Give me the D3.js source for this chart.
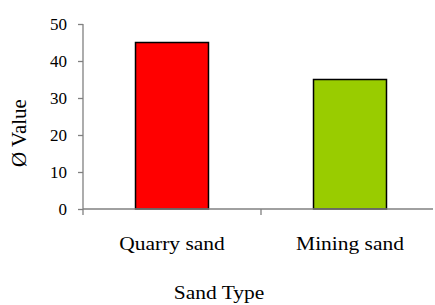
<!DOCTYPE html>
<html>
<head>
<meta charset="utf-8">
<script src="https://cdn.jsdelivr.net/npm/d3@7"></script>
<style>
  body { margin: 0; background: #fff; }
  text { font-family: "Liberation Serif", "Times New Roman", serif; fill: #000; }
</style>
</head>
<body>
<div id="chart"></div>
<script>
// Données
const categories = ["Quarry sand", "Mining sand"];
const values = [45, 35];
const colors = ["#FF0000", "#99CC00"];
const yTicks = [0, 10, 20, 30, 40, 50];

const width = 435;
const height = 305;

const svg = d3.select("#chart")
    .append("svg")
    .attr("width", width)
    .attr("height", height);

// Échelles
const x = d3.scaleBand()
    .domain(categories)
    .range([83, 439])
    .padding(0);

const y = d3.scaleLinear()
    .domain([0, 50])
    .range([209, 24]);

const barW = x.bandwidth() * 0.41;

// Barres
svg.selectAll("rect.bar")
    .data(categories)
    .enter()
    .append("rect")
    .attr("class", "bar")
    .attr("x", d => x(d) + (x.bandwidth() - barW) / 2)
    .attr("y", (d, i) => y(values[i]))
    .attr("width", barW)
    .attr("height", (d, i) => y(0) - y(values[i]))
    .attr("fill", (d, i) => colors[i])
    .attr("stroke", "#000")
    .attr("stroke-width", 1.5);

// Axe Y
const yAxis = svg.append("g")
    .attr("transform", "translate(83,0)")
    .call(d3.axisLeft(y).tickValues(yTicks).tickSize(5).tickPadding(11).tickSizeOuter(0));
yAxis.select(".domain").attr("stroke", "#808080").attr("stroke-width", 1.3)
    .attr("d", `M0,${y(50)}V${y(0) + 6}`);
yAxis.selectAll(".tick line").attr("stroke", "#808080").attr("stroke-width", 1.3);
yAxis.selectAll(".tick text")
    .style("font-size", "17px");

// Axe X
svg.append("line")
    .attr("x1", 83).attr("x2", 433)
    .attr("y1", y(0)).attr("y2", y(0))
    .attr("stroke", "#808080").attr("stroke-width", 1.3);

svg.selectAll("line.xtick")
    .data(categories.slice(1))
    .enter()
    .append("line")
    .attr("class", "xtick")
    .attr("x1", d => x(d)).attr("x2", d => x(d))
    .attr("y1", y(0)).attr("y2", y(0) + 6)
    .attr("stroke", "#808080").attr("stroke-width", 1.3);

svg.selectAll("text.cat")
    .data(categories)
    .enter()
    .append("text")
    .attr("class", "cat")
    .attr("transform", d => `translate(${x(d) + x.bandwidth() / 2},250) scale(1.1,1)`)
    .attr("text-anchor", "middle")
    .style("font-size", "19.5px")
    .text(d => d);

// Titres des axes
svg.append("text")
    .attr("transform", "translate(219,299) scale(1.1,1)")
    .attr("text-anchor", "middle")
    .style("font-size", "19.5px")
    .text("Sand Type");

svg.append("text")
    .attr("transform", "translate(26,133) rotate(-90)")
    .attr("text-anchor", "middle")
    .style("font-size", "21px")
    .text("Ø Value");
</script>
</body>
</html>
